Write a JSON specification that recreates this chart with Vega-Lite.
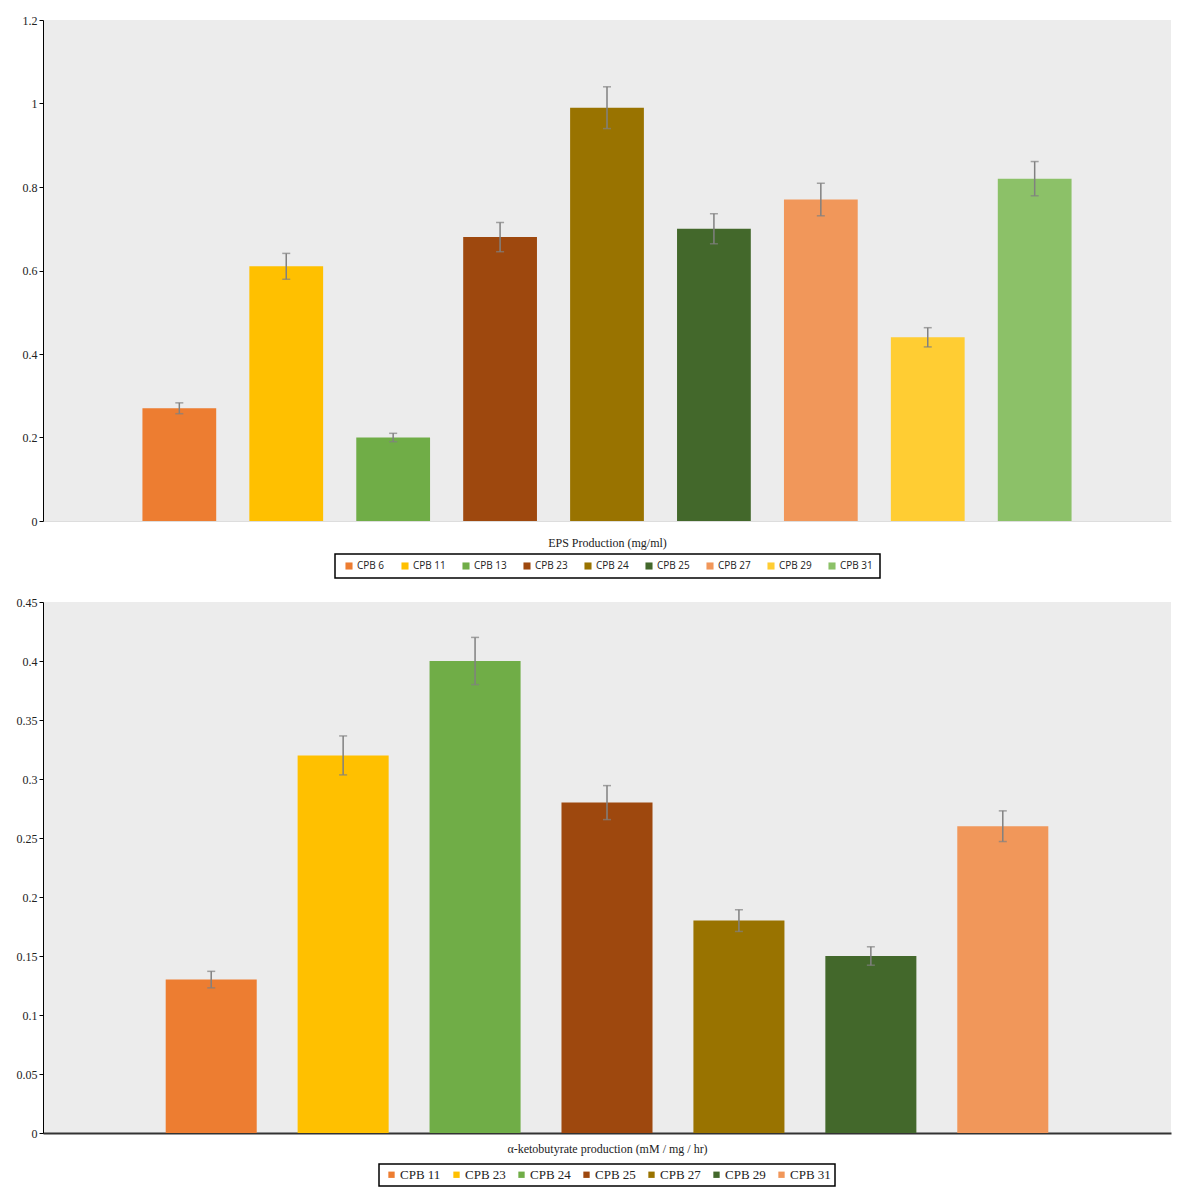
{
  "$schema": "https://vega.github.io/schema/vega-lite/v6.json",
  "background": "white",
  "padding": {"left": 16, "top": 14, "right": 16, "bottom": 2},
  "spacing": 17,
  "datasets": {
    "eps": [
      {"strain": "CPB 6", "value": 0.27, "err": 0.013},
      {"strain": "CPB 11", "value": 0.61, "err": 0.031},
      {"strain": "CPB 13", "value": 0.2, "err": 0.01},
      {"strain": "CPB 23", "value": 0.68, "err": 0.035},
      {"strain": "CPB 24", "value": 0.99, "err": 0.05},
      {"strain": "CPB 25", "value": 0.7, "err": 0.036},
      {"strain": "CPB 27", "value": 0.77, "err": 0.039},
      {"strain": "CPB 29", "value": 0.44, "err": 0.023},
      {"strain": "CPB 31", "value": 0.82, "err": 0.041}
    ],
    "keto": [
      {"strain": "CPB 11", "value": 0.13, "err": 0.007},
      {"strain": "CPB 23", "value": 0.32, "err": 0.0165},
      {"strain": "CPB 24", "value": 0.4, "err": 0.02},
      {"strain": "CPB 25", "value": 0.28, "err": 0.0144},
      {"strain": "CPB 27", "value": 0.18, "err": 0.0092},
      {"strain": "CPB 29", "value": 0.15, "err": 0.0078},
      {"strain": "CPB 31", "value": 0.26, "err": 0.013}
    ]
  },
  "vconcat": [
    {
      "width": 1128,
      "height": 501,
      "data": {"name": "eps"},
      "layer": [
        {
          "mark": {"type": "bar"},
          "encoding": {
            "x": {
              "field": "strain", "type": "nominal", "sort": null,
              "scale": {"paddingInner": 0.31, "paddingOuter": 0.93},
              "axis": {"title": "EPS Production (mg/ml)", "labels": false, "ticks": false, "domainColor": "#dddddd", "titlePadding": 16}
            },
            "y": {
              "field": "value", "type": "quantitative",
              "scale": {"domain": [0, 1.2], "nice": false},
              "axis": {"title": null, "values": [0, 0.2, 0.4, 0.6, 0.8, 1, 1.2], "format": "~g", "domainColor": "black", "tickColor": "black", "tickSize": 4}
            },
            "color": {
              "field": "strain", "type": "nominal", "sort": null,
              "scale": {
                "domain": ["CPB 6", "CPB 11", "CPB 13", "CPB 23", "CPB 24", "CPB 25", "CPB 27", "CPB 29", "CPB 31"],
                "range": ["#ED7D31", "#FFC000", "#70AD47", "#9E480E", "#997300", "#43682B", "#F1975A", "#FFCD33", "#8CC168"]
              },
              "legend": {
                "title": null, "orient": "bottom", "direction": "horizontal", "offset": 6,
                "labelFont": "Open Sans", "labelFontSize": 10, "columnPadding": 13,
                "symbolSize": 50, "symbolOffset": 2, "labelOffset": 3, "padding": 7
              }
            }
          }
        },
        {
          "mark": {"type": "errorbar", "ticks": {"size": 8, "color": "#808080"}, "color": "#808080", "thickness": 1.5},
          "encoding": {
            "x": {"field": "strain", "type": "nominal", "sort": null},
            "y": {"field": "value", "type": "quantitative"},
            "yError": {"field": "err"}
          }
        }
      ]
    },
    {
      "width": 1128,
      "height": 531,
      "data": {"name": "keto"},
      "layer": [
        {
          "mark": {"type": "bar"},
          "encoding": {
            "x": {
              "field": "strain", "type": "nominal", "sort": null,
              "scale": {"paddingInner": 0.31, "paddingOuter": 0.93},
              "axis": {"title": "α-ketobutyrate production (mM / mg / hr)", "labels": false, "ticks": false, "domainColor": "#333333", "domainWidth": 2, "titlePadding": 10}
            },
            "y": {
              "field": "value", "type": "quantitative",
              "scale": {"domain": [0, 0.45], "nice": false},
              "axis": {"title": null, "values": [0, 0.05, 0.1, 0.15, 0.2, 0.25, 0.3, 0.35, 0.4, 0.45], "format": "~g", "domainColor": "black", "tickColor": "black", "tickSize": 4}
            },
            "color": {
              "field": "strain", "type": "nominal", "sort": null,
              "scale": {
                "domain": ["CPB 11", "CPB 23", "CPB 24", "CPB 25", "CPB 27", "CPB 29", "CPB 31"],
                "range": ["#ED7D31", "#FFC000", "#70AD47", "#9E480E", "#997300", "#43682B", "#F1975A"]
              },
              "legend": {
                "title": null, "orient": "bottom", "direction": "horizontal", "offset": 10,
                "labelFont": "Liberation Serif", "labelFontSize": 13, "columnPadding": 7,
                "symbolSize": 40, "symbolOffset": 2, "labelOffset": 2, "padding": 4
              }
            }
          }
        },
        {
          "mark": {"type": "errorbar", "ticks": {"size": 8, "color": "#808080"}, "color": "#808080", "thickness": 1.5},
          "encoding": {
            "x": {"field": "strain", "type": "nominal", "sort": null},
            "y": {"field": "value", "type": "quantitative"},
            "yError": {"field": "err"}
          }
        }
      ]
    }
  ],
  "resolve": {"scale": {"color": "independent"}},
  "config": {
    "view": {"stroke": null, "fill": "#ececec"},
    "axis": {
      "labelFont": "Liberation Serif", "titleFont": "Liberation Serif",
      "labelFontSize": 12, "titleFontSize": 12, "titleFontWeight": "normal",
      "labelColor": "#222222", "titleColor": "#222222", "grid": false
    },
    "legend": {
      "strokeColor": "black", "strokeWidth": 1.5, "fillColor": "white",
      "symbolType": "square", "symbolStrokeWidth": 0, "labelColor": "#222222", "cornerRadius": 0,
      "layout": {"bottom": {"anchor": "middle"}}
    }
  }
}
